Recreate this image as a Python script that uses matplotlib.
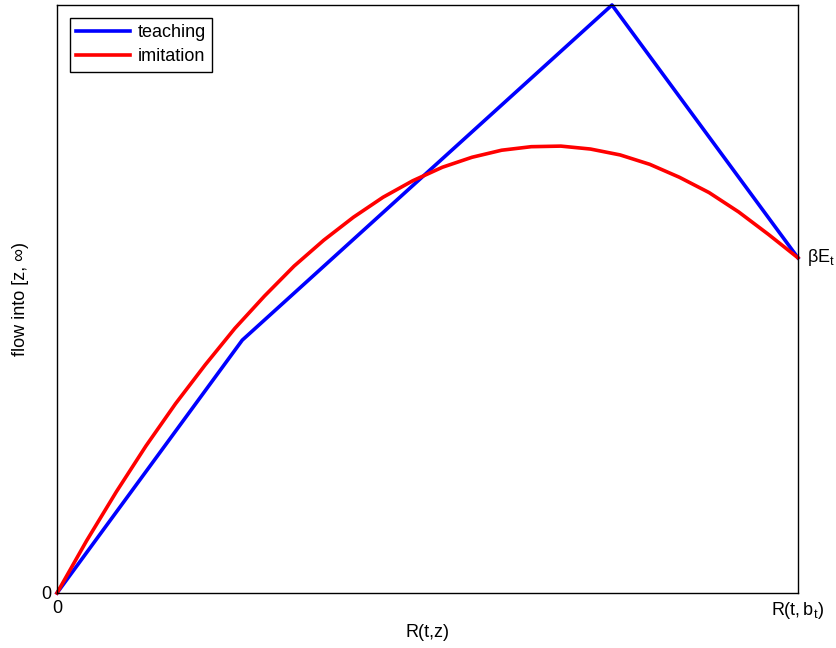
import matplotlib
matplotlib.use("Agg")
import matplotlib.pyplot as plt

# =========================
# Data (x and y normalised to the box)
# =========================
teach_x = [0.0, 0.25, 0.749, 1.0]
teach_y = [0.0, 0.430, 1.0, 0.570]

imit_x = [0.00, 0.04, 0.08, 0.12, 0.16, 0.20, 0.24, 0.28, 0.32, 0.36, 0.40, 0.44, 0.48,
          0.52, 0.56, 0.60, 0.64, 0.68, 0.72, 0.76, 0.80, 0.84, 0.88, 0.92, 0.96, 1.00]
imit_y = [0.000, 0.089, 0.172, 0.250, 0.322, 0.388, 0.450, 0.505, 0.556, 0.600, 0.639,
          0.673, 0.701, 0.724, 0.741, 0.753, 0.759, 0.760, 0.755, 0.745, 0.729, 0.707,
          0.681, 0.648, 0.610, 0.570]

x_ticks = [0.0, 1.0]
x_tick_labels = ["0", r"$\mathregular{R(t,b_t)}$"]
y_ticks = [0.0]
y_tick_labels = ["0"]
end_label = r"$\mathregular{βE_t}$"

plt.rcParams['font.family'] = ['Liberation Sans', 'DejaVu Sans']
plt.rcParams['mathtext.fontset'] = 'custom'
plt.rcParams['mathtext.rm'] = 'Liberation Sans'
plt.rcParams['mathtext.it'] = 'Liberation Sans:italic'
plt.rcParams['font.size'] = 13

fig = plt.figure(figsize=(8.36, 6.48), dpi=100)
ax = fig.add_axes([0.0682, 0.0849, 0.8863, 0.9074])

ax.plot(teach_x, teach_y, color='blue', linewidth=2.6, label='teaching', clip_on=False)
ax.plot(imit_x, imit_y, color='red', linewidth=2.6, label='imitation', clip_on=False)

ax.set_xlim(0, 1)
ax.set_ylim(0, 1)
ax.set_xticks(x_ticks)
ax.set_xticklabels(x_tick_labels)
ax.set_yticks(y_ticks)
ax.set_yticklabels(y_tick_labels)
ax.tick_params(axis='x', length=0, pad=5)
ax.tick_params(axis='y', length=0, pad=4)
for s in ax.spines.values():
    s.set_linewidth(1.0)

ax.text(1.012, teach_y[-1], end_label, transform=ax.transAxes, va='center', ha='left')

ax.set_xlabel("R(t,z)", labelpad=2)
ax.set_ylabel("flow into [z, ∞)", labelpad=9)

leg = ax.legend(loc='upper left', bbox_to_anchor=(0.0175, 0.978), fancybox=False,
                edgecolor='black', framealpha=1, handlelength=3.0, borderpad=0.35,
                labelspacing=0.4, handletextpad=0.4, borderaxespad=0.0)
leg.get_frame().set_linewidth(1.0)

fig.savefig("out.png", dpi=100)
